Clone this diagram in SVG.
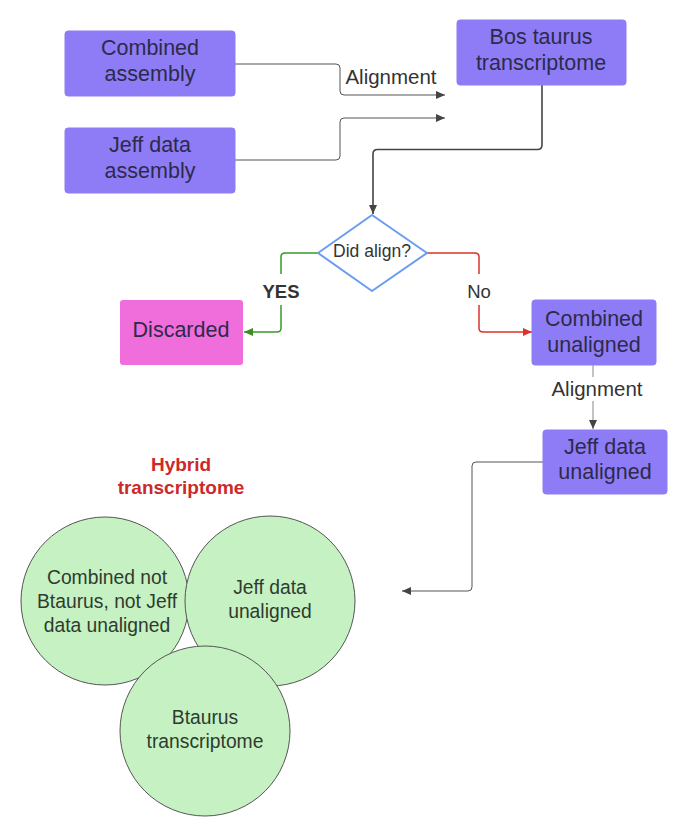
<svg xmlns="http://www.w3.org/2000/svg" width="680" height="830" viewBox="0 0 680 830">
<style>
text{font-family:"Liberation Sans",Arial,sans-serif;text-anchor:middle}
.box{fill:#8d7cf6;stroke:#8d7cf6;stroke-width:1}
.bt{font-size:21.5px;fill:#2d2a4a}
.lbl{font-size:20.5px;fill:#333}
.circ{fill:#c6f1c2;stroke:#555;stroke-width:1}
.ct{font-size:19.3px;fill:#2e3b2e}
.con{fill:none;stroke:#555;stroke-width:1}
</style>
<defs>
<marker id="ag" markerWidth="10" markerHeight="8" refX="9" refY="4" orient="auto" markerUnits="userSpaceOnUse"><path d="M0,0 L9,4 L0,8 z" fill="#444"/></marker>
<marker id="agr" markerWidth="10" markerHeight="8" refX="9" refY="4" orient="auto" markerUnits="userSpaceOnUse"><path d="M0,0 L9,4 L0,8 z" fill="#3a8f22"/></marker>
<marker id="ard" markerWidth="10" markerHeight="8" refX="9" refY="4" orient="auto" markerUnits="userSpaceOnUse"><path d="M0,0 L9,4 L0,8 z" fill="#d9342b"/></marker>
</defs>

<g id="connectors">
<path class="con" d="M235,64 H336 Q340,64 340,68 V91 Q340,95 344,95 H445" marker-end="url(#ag)"/>
<path class="con" d="M235,160 H336 Q340,160 340,156 V122 Q340,118 344,118 H445" marker-end="url(#ag)"/>
<text class="lbl" x="391" y="84">Alignment</text>
<path d="M542,85 V145 Q542,149.5 537.5,149.5 H377.5 Q373,149.5 373,154 V214" fill="none" stroke="#444" stroke-width="1.6" marker-end="url(#ag)"/>
<path d="M318,253 H285 Q281,253 281,257 V274 M281,305 V328 Q281,332 277,332 H244" fill="none" stroke="#3a9a2a" stroke-width="1.5" marker-end="url(#agr)"/>
<text x="281" y="298" style="font-size:18.5px;font-weight:bold;fill:#333">YES</text>
<path d="M427,253 H475 Q479,253 479,257 V274 M479,305 V328 Q479,332 483,332 H532" fill="none" stroke="#d9342b" stroke-width="1.5" marker-end="url(#ard)"/>
<text x="479" y="298" style="font-size:18.5px;fill:#333">No</text>
<path d="M593,365 V429" fill="none" stroke="#888" stroke-width="1" marker-end="url(#ag)"/>
<rect x="548" y="377" width="99" height="24" fill="#fff"/>
<text class="lbl" x="597" y="396">Alignment</text>
<path class="con" d="M543,462 H476 Q472,462 472,466 V587 Q472,591 468,591 H402" marker-end="url(#ag)"/>
</g>

<g id="combined-assembly">
<rect class="box" x="65" y="31" width="170" height="65" rx="3"/>
<text class="bt" x="150" y="55">Combined</text>
<text class="bt" x="150" y="81">assembly</text>
</g>
<g id="jeff-data-assembly">
<rect class="box" x="65" y="128" width="170" height="65" rx="3"/>
<text class="bt" x="150" y="152">Jeff data</text>
<text class="bt" x="150" y="178">assembly</text>
</g>
<g id="bos-taurus">
<rect class="box" x="457" y="20" width="169" height="65" rx="3"/>
<text class="bt" x="541" y="44">Bos taurus</text>
<text class="bt" x="541" y="70">transcriptome</text>
</g>
<g id="did-align">
<path d="M372,215 L427,253 L372,291 L318,253 Z" fill="#fff" stroke="#6a9cf0" stroke-width="2" stroke-linejoin="round"/>
<text x="372" y="257" style="font-size:17.5px;fill:#333">Did align?</text>
</g>
<g id="discarded">
<rect x="120" y="300" width="123" height="65" rx="3" fill="#f06edc"/>
<text class="bt" x="181" y="337">Discarded</text>
</g>
<g id="combined-unaligned">
<rect class="box" x="532" y="300" width="124" height="65" rx="3"/>
<text class="bt" x="594" y="326">Combined</text>
<text class="bt" x="594" y="352">unaligned</text>
</g>
<g id="jeff-data-unaligned">
<rect class="box" x="543" y="430" width="124" height="64" rx="3"/>
<text class="bt" x="605" y="454">Jeff data</text>
<text class="bt" x="605" y="479">unaligned</text>
</g>
<g id="hybrid-title">
<text x="181" y="471" style="font-size:19px;font-weight:bold;fill:#cc2a2a">Hybrid</text>
<text x="181" y="494" style="font-size:19px;font-weight:bold;fill:#cc2a2a">transcriptome</text>
</g>
<g id="circle-combined">
<circle class="circ" cx="105" cy="601" r="84"/>
<text class="ct" x="107" y="584">Combined not</text>
<text class="ct" x="107" y="608">Btaurus, not Jeff</text>
<text class="ct" x="107" y="632">data unaligned</text>
</g>
<g id="circle-jeff">
<circle class="circ" cx="270" cy="601" r="85"/>
<text class="ct" x="270" y="594">Jeff data</text>
<text class="ct" x="270" y="618">unaligned</text>
</g>
<g id="circle-btaurus">
<circle class="circ" cx="205" cy="731" r="85"/>
<text class="ct" x="205" y="724">Btaurus</text>
<text class="ct" x="205" y="748">transcriptome</text>
</g>
</svg>
